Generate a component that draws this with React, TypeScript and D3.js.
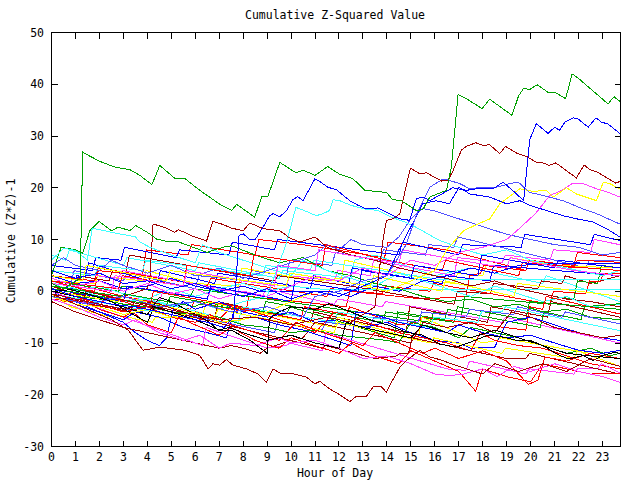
import React from 'react';
import * as d3 from 'd3';

// hour-of-day ticks and value ticks
const hourTicks = d3.range(0, 24);
const valueTicks = [-30, -20, -10, 0, 10, 20, 30, 40, 50];

// each series: [hour, cumulative (Z*Z)-1]
const g1 = [[0,1.5],[0.5,0.5],[1.2,2.5],[1.3,26.9],[1.52,26.3],[2.02,25.1],[2.64,24],[3.27,23.5],[3.69,22.4],[4.19,20.6],[4.52,24.3],[5.15,21.8],[5.56,21.8],[6.19,19.5],[7.03,16.8],[7.52,15.6],[7.73,16.8],[8.48,14.3],[8.78,18.3],[9.03,18.3],[9.53,24.9],[10.2,22.9],[10.5,23.4],[11,22.4],[11.53,24.1],[12.03,22.6],[12.57,21.8],[13.08,19.5],[13.98,19.1],[14.24,17.7],[14.6,17.5],[15.23,15.6],[15.5,15.8],[15.79,18.2],[16.49,19.5],[16.69,24],[16.97,38],[17.32,37.2],[17.97,35.3],[18.29,37.1],[19.22,34],[19.5,37.8],[19.72,39.3],[19.93,38.9],[20.27,39.9],[20.77,38.3],[21,38.5],[21.46,37.2],[21.73,42],[21.98,41.2],[23.23,36.2],[23.48,37.6],[23.72,36.7]];
const b1 = [[0,0.5],[1,-1],[2.5,-2.5],[3.5,-3],[5,-4.5],[6.5,-6],[7.2,-7],[7.6,-5],[7.83,10.8],[8.0,11.1],[8.25,10.1],[8.49,9.9],[8.83,12.4],[9.11,14.6],[9.25,15],[9.53,14.4],[9.81,15.6],[10.08,17.7],[10.27,18.3],[10.5,17.5],[10.99,21.7],[11.2,21.2],[11.54,20.1],[11.9,19.6],[12.45,17.5],[12.8,16.6],[13.15,15.9],[13.63,16.1],[13.98,15.3],[14.54,14],[14.95,13.7],[15.23,17.9],[15.51,18.2],[15.79,17.5],[16.75,20],[17.32,19.5],[17.74,19.8],[18.43,19.8],[18.85,21.1],[19.41,18.8],[19.71,17.5],[19.96,29.3],[20.24,32.4],[20.73,30.5],[21.0,31.7],[21.2,31.1],[21.43,32.7],[21.77,33.5],[21.98,33.3],[22.4,31.7],[22.73,33.5],[22.95,32.7],[23.23,32.3],[23.72,30.5]];
const dr1 = [[0,-0.5],[1.5,-2],[3,-3.5],[4.2,-2],[5.5,-4],[7,-5.5],[8.5,-5],[10,-6.5],[11.5,-5],[12.5,-6],[13.5,-3],[13.84,10.1],[13.98,13.7],[14.26,14],[14.54,15],[14.98,23.8],[15.37,22.7],[15.65,22.9],[16.0,22],[16.28,21.3],[16.55,21.4],[16.76,23.3],[17.11,27.3],[17.32,28],[17.71,28.7],[18.01,28.2],[18.29,28.3],[18.71,26.6],[18.95,28],[19.41,26.7],[19.89,25.9],[20.24,24.9],[20.52,24.8],[20.77,24.3],[21.05,24.8],[21.91,21.9],[22.23,24.4],[22.47,23.5],[22.75,23.1],[23.55,20.9],[23.72,21.2]];
const dr2 = [[0,-0.5],[0.5,-1.5],[1.5,-3.5],[2.5,-5.5],[3.2,-7.5],[3.82,-11.4],[4.52,-10.8],[5.56,-11.4],[6.19,-12.4],[6.54,-15],[6.74,-14],[7.02,-14.3],[7.3,-13.2],[7.58,-14.3],[8.14,-15],[8.62,-16],[8.97,-17.6],[9.25,-15],[9.53,-15.8],[9.95,-15.8],[10.64,-16.6],[10.99,-17.9],[11.2,-17.4],[11.62,-18.9],[12.03,-20],[12.45,-21.3],[12.73,-20.3],[13.15,-20.3],[13.42,-18.5],[13.77,-18.5],[13.98,-19.5],[14.19,-17.6],[14.54,-14.7],[14.82,-13.4],[15.37,-11.4],[15.79,-12.7],[16.2,-13.2],[17,-14.5],[18,-16],[18.5,-14],[19.5,-15.5],[20.5,-14],[21.5,-15.5],[22.5,-13],[23.72,-14.5]];
const g2 = [[0,3],[0.4,8.5],[1.0,8],[1.3,7.3],[1.6,11.7],[1.98,13.5],[2.5,11.7],[2.79,12.4],[3.27,11.7],[3.52,12.7],[4.1,11.1],[4.38,10.1],[4.73,9.7],[5.2,9.7],[6.5,7.5],[6.74,7.9],[7.16,8.5],[7.51,8.8],[8.5,7],[9.5,5.5],[10.5,6.5],[11.5,4],[12.5,3],[13.5,1.5],[14.5,0.5],[15.5,-1],[16.5,-2],[17.5,-1.5],[18.5,-3],[19.5,-2.5],[20.5,-4],[21.5,-3.5],[22.5,-5],[23.72,-5.5]];
const c1 = [[0,6],[0.5,8.3],[1,7.9],[1.5,6],[1.7,12.2],[2.2,11.7],[2.5,11.4],[3.5,10.5],[3.7,9.5],[4.1,8.5],[5,7],[6,5.5],[6.3,9],[7,7.5],[8,6],[9,4.5],[10,3],[10.5,6],[11.5,4],[12.5,2.5],[13.5,1],[14.5,3.5],[15.5,2],[16.5,0.5],[17.5,-1],[18.5,1],[19.5,-0.5],[20.5,-2],[21.5,-1],[22.5,-3],[23.72,-2.5]];
const dr3 = [[0,1],[1,-0.5],[2,-1.5],[3,-1],[4,0.5],[4.1,2],[4.24,13],[4.8,12.2],[5.15,11.4],[5.29,11.9],[5.64,11.2],[5.91,10.6],[6.12,10.3],[6.47,9.7],[6.74,13.5],[7.16,12.9],[7.51,12.2],[8,11.7],[8.28,13.2],[8.83,12.1],[9.53,11.7],[9.95,10.3],[10.36,9.5],[11,10.5],[11.5,8.5],[12.5,7],[13.5,6],[14.5,4.5],[15.5,3.5],[16.5,2.5],[17.5,1],[18.5,2],[19.5,0.5],[20.5,-0.5],[21.5,-1.5],[22.5,-2],[23.72,-3]];
const c2 = [[0,2],[1,0.5],[2,-1],[3,-2],[4,-1.5],[5,-3],[6,-2],[7,-3.5],[8,-2],[9,-1],[9.8,9.2],[10.2,16.2],[10.6,15.5],[11.05,14.6],[11.33,15],[11.61,15.6],[11.75,17.7],[12.03,17.5],[12.5,16.6],[13.08,15.9],[13.63,15.6],[14.19,14.3],[14.75,13.4],[15.2,12.4],[16.2,9.8],[17,8.5],[18,7],[19,8],[20,6],[21,5],[22,4],[23,3],[23.72,4]];
const p1 = [[0,-1],[1.5,-2.5],[3,-1],[4.5,-3],[6,-2],[7.5,-4],[9,-3],[10.5,-5],[11,-1],[12,0],[13,2],[14,3],[14.8,9],[15.3,15.6],[15.51,17.5],[15.79,20.1],[16.34,21.7],[16.62,21.4],[17.04,20.8],[17.46,19.8],[18.0,20.1],[18.57,20.1],[19.13,20.8],[19.48,21.1],[19.96,19.1],[20.52,18.5],[21.35,17.5],[22.19,15.9],[22.75,15],[23.72,13]];
const b2 = [[0,4],[1,2.5],[2,3.5],[3,1.5],[4,2],[5,0.5],[6,1.5],[7,0],[8,-1],[9,0.5],[10,-1.5],[11,0],[12,-1],[13,1],[14,3],[14.5,8],[15.5,16.9],[16.05,17.5],[16.61,16.9],[17.01,20.1],[17.46,18.8],[18.29,18.2],[18.99,16.9],[19.55,17.5],[19.96,16.6],[20.66,15.6],[21.35,14.6],[21.91,14],[22.61,13.4],[23.2,12],[23.72,10.5]];
const m1 = [[0,2.5],[1,1],[2,2],[3,0],[4,1.5],[5,-0.5],[6,0.5],[7,-1.5],[8,0],[9,-1],[10,1],[11,3],[12,2],[13,4.5],[14,3],[15,6],[16,5],[17,7.5],[18,8.5],[19,10],[19.5,12],[20.2,15],[20.8,18.5],[21.3,19.5],[21.77,20.9],[22.19,20.8],[22.75,19.8],[23.3,19],[23.72,18.2]];
const y1 = [[0,-1],[1,-2.5],[2,-3],[3,-4.5],[4,-3.5],[5,-5],[6,-4],[7,-6],[8,-5.5],[9,-4],[10,-2],[11,0],[12,-1],[13,1],[14,0],[15,2],[16,4],[16.5,8],[17.2,11.7],[17.8,13],[18.3,14],[18.71,16.9],[19.55,19.8],[20.1,19.3],[20.66,19.5],[20.94,18.2],[21.5,20],[21.91,18.8],[22.75,17.5],[23.03,21.1],[23.3,20.8],[23.72,19.8]];
const r1 = [[0,-1],[0.6,-2],[1.2,-1.5],[2,-3.5],[3,-5],[3.4,-4],[4,-6.5],[5,-8],[5.3,-5],[6,-6.5],[7,-8.5],[7.5,-7],[8.5,-9.5],[9.5,-11],[10,-9],[11,-10.5],[12,-12],[12.5,-10],[13.5,-12.5],[14.5,-14],[15,-11.5],[16,-13.5],[17,-15.5],[17.7,-19.3],[18,-15],[19,-16.5],[20,-17.5],[20.5,-14],[21.5,-15],[22.5,-16],[23.72,-15.8]];
const m2 = [[0,-1.5],[1,-3],[2,-5],[3,-6.5],[3.5,-5.5],[4.5,-8],[5.5,-9.5],[6.2,-8.5],[7,-11],[7.5,-10],[8.5,-10.5],[9.5,-9],[10,-10],[11,-9.5],[12,-11],[13,-13],[14,-12.5],[15,-14],[16,-16],[16.6,-16.3],[17.2,-16],[18,-15],[18.6,-16.5],[19.3,-14.5],[20,-15.5],[21,-14],[22,-15.5],[23,-16.5],[23.72,-17.6]];
const r2 = [[0,0.5],[1,-1],[2,-2.5],[3,-4],[4,-3],[5,-5],[6,-6],[6.6,-4.5],[7.5,-6.5],[8.5,-8],[9.5,-9.5],[10.2,-6],[11,-7.5],[12,-9],[13,-10.5],[13.5,-8],[14.5,-10],[15.5,-12],[16,-11],[17,-13],[18,-11.5],[19,-13.5],[19.9,-18],[20.3,-17.2],[20.6,-12.7],[21.5,-13.5],[22.5,-12],[23.72,-13]];
const b3 = [[0,0],[1,-2],[2,-4],[3,-6],[3.5,-8],[4,-9.5],[4.5,-10.5],[4.8,-9],[5.1,-3],[5.5,-2],[6,-3.5],[7,-2],[8,-4],[9,-5],[10,-4],[11,-6],[12,-5.5],[13,-7],[14,-6],[15,-8],[16,-9.5],[17,-10],[17.5,-11],[18.5,-10.8],[19,-6],[20,-5],[21,-6.5],[22,-8],[23,-9],[23.72,-9.5]];
const bk1 = [[0,0],[1,-1],[2,-2],[3,-3],[4,-4.5],[4.5,-1.2],[5,-2],[6.5,-5.7],[7,-7.6],[7.5,-7.5],[8.3,-9.5],[9,-12],[9.1,-5.3],[9.5,-4],[10,-3],[11,-3.5],[11.6,-2.4],[12.5,-4],[13.4,-5.7],[14.1,-6.6],[14.8,-7.9],[15.5,-8.5],[16.2,-10.2],[16.9,-10.8],[17.5,-9.8],[18.2,-8.5],[18.9,-8.9],[19.4,-9.5],[20,-9.5],[20.5,-10.5],[21.2,-12.4],[21.6,-13.1],[22.2,-12.4],[22.6,-13.4],[23,-12.4],[23.5,-11.8],[23.72,-12]];
const bk2 = [[0,0],[0.8,0.3],[1.5,-0.5],[2.5,-2],[3.6,-5],[4,-6],[4.3,-3],[5,-4],[6,-5.5],[7,-7.5],[7.4,-7],[8,-8],[9,-9.5],[10,-8.5],[11,-10],[12,-11],[12.3,-6],[13,-7],[14,-8],[15,-9],[15.5,-6.5],[16.5,-8],[17.5,-9],[18.5,-7.5],[19.5,-9],[20.5,-10.5],[21.5,-12],[22.5,-12.5],[23.72,-13]];
const c3 = [[0,1.5],[1,0],[2,1],[3,-0.5],[4,-1.5],[5,0.5],[6,-1],[7,0.5],[8,1.5],[9,0],[10,1],[11,0.5],[11.6,0.3],[23.72,0.3]];
const c4 = [[0,4],[1.8,3],[1.95,5],[3.8,4],[3.95,6],[8.8,3],[8.95,5],[10.8,4],[10.95,6],[16.3,2.2],[23.72,2.2]];
const b4 = [[0,3],[1,1.5],[2,2],[3,0.5],[4,1],[5,2.5],[6,1],[7,0],[8,1],[8.7,0],[11.6,0],[12.5,-1],[13.5,1],[14.5,0],[15.5,2],[16.5,3],[17.5,4.5],[18.5,3.5],[19.5,5],[20.8,5.3],[23.72,5.3]];
const p2 = [[0,5],[0.5,6.5],[1,5],[2,4],[2.5,6],[3,5],[4,3.5],[5,5],[6,3],[7,4.5],[8,2.5],[9,4],[10,5.5],[11,7],[11.5,9],[12,8],[12.5,10],[13,9],[14,8.5],[14.5,10.5],[15,14],[15.5,16],[16,15.5],[17,14],[18,12.5],[19,11],[20,10],[21,9],[22,8.5],[23,7],[23.72,7.5]];
const r3 = [[0,2],[4.1,-3],[4.25,0],[7.8,-3],[10.4,-5.5],[10.55,-3],[12.3,-4.5],[12.45,-3],[14.5,-6.5],[15.3,-6],[15.45,-5],[19.8,-7.5],[19.95,-3],[20.5,-3.5],[20.65,-1],[23.72,-4.4]];
const g3 = [[0,1],[2.9,-1],[3.05,-0.5],[6,-3],[6.15,-2.5],[9.8,-4.5],[9.95,-3],[14.3,-9],[14.45,-4],[16.4,-5.5],[16.55,-3.5],[20.4,-7],[20.55,-4],[22.1,-5.5],[22.25,-3],[23.72,-2.4]];
const y2 = [[0,-0.5],[0.8,-3],[2.5,-5],[2.65,-4.5],[4.2,-6],[4.35,-5],[6.3,-5],[6.45,-2],[11.8,-7],[11.95,-5],[15.3,-9.5],[15.45,-5],[18,-10],[18.6,-9.5],[18.75,-9],[23.72,-13]];
const m3 = [[0,1],[2.8,-1],[4.5,-2],[4.65,0],[6.5,-1.5],[6.65,0.5],[7.8,0],[7.95,2],[9.8,1],[9.95,3],[11.8,2],[11.95,4],[13.3,3],[13.45,6],[16.8,3],[16.95,6.5],[18.8,5.5],[18.95,7],[20.8,6],[20.95,8],[22.5,7.5],[22.65,10],[23.72,9]];
const dr4 = [[0,1],[0.9,0.5],[1.05,3],[2.4,2],[2.55,4],[3.1,3.5],[3.25,7],[7.5,3.5],[9.3,2],[9.45,3],[12.5,1],[16.8,-2.5],[16.95,0],[18.3,-0.5],[18.45,1.5],[20.3,0.5],[20.45,2],[21.3,1.5],[21.45,3],[22.5,1.5],[23.72,3]];
const b5 = [[0,1],[0.9,0.5],[1.05,3],[1.4,2.8],[1.55,5.5],[4.4,1.5],[4.55,4],[6.8,1.5],[6.95,3.5],[10.8,0.5],[10.95,3],[12.4,1.5],[12.55,4.5],[16.3,1.5],[16.45,3],[18.3,2],[18.45,5],[23.72,3]];
const r4 = [[0,-1.5],[1,-2],[2,-3],[2.3,-1],[3,-2],[4,-3.5],[5,-5],[6,-4],[7,-5.5],[7.5,-3],[8.5,-4],[9.5,-5.5],[10.5,-7],[11,-8],[11.8,-4],[12.5,-5],[13.5,-6.5],[14.5,-8],[15.5,-9],[16.5,-10],[17.5,-11.5],[17.9,-8],[18.5,-9.5],[19.5,-10.5],[20.5,-11],[21.5,-12.5],[22.5,-14],[23.72,-15]];
const g4 = [[0,0],[1,-1],[2,-1.5],[3,-2.5],[4,-3],[5,-4],[6,-4.5],[7,-5],[8,-6.5],[9,-7],[10,-8],[11,-7.5],[12,-8.5],[13,-9],[14,-9.5],[14.5,-10],[15,-6],[16,-7],[17,-9],[17.5,-7],[18.5,-8],[19.5,-9],[20.5,-10.5],[21.5,-12],[22.5,-11],[23.3,-12.5],[23.72,-12]];
const c5 = [[0,7],[0.6,6],[0.75,8],[3,5],[3.15,6.5],[6,4],[6.15,5.5],[9.5,2.5],[9.65,4],[12.5,2.5],[12.65,6],[13.5,7],[16,3],[17.5,4.5],[19,3],[20.5,1.5],[20.65,3],[23.72,-2]];
const y3 = [[0,2],[1.8,1.5],[1.95,3],[3.8,2],[3.95,4],[6,1.5],[7.8,1],[7.95,4.5],[11,2],[12.1,2.5],[12.25,6],[16,2],[16.8,1.5],[16.95,3.5],[18,3],[18.15,5],[19,4.5],[19.15,6.5],[21,5],[23.72,4.5]];
const r5 = [[0,0],[0.8,-0.5],[0.95,1.5],[3,-1],[5.8,-3.5],[5.95,-2],[8.1,-4],[8.25,-1],[12.3,-3],[12.45,0],[15.5,-1.5],[17.3,-1],[17.45,3],[17.9,3.5],[18.05,5],[19.8,4],[19.95,6],[21.8,4.5],[21.95,6],[23.72,5.6]];
const dr5 = [[0,-2],[1,-4],[2,-5.5],[3,-7],[4,-8],[5,-9],[6,-10],[7,-11],[7.5,-10.5],[8,-11],[8.7,-12],[9,-11],[10,-9.5],[10.5,-9],[11,-6],[12,-7],[13,-8],[14,-9],[15,-10],[15.5,-6],[16.5,-7],[17.5,-6],[18.5,-8],[19.2,-4],[20,-5],[21,-7],[22,-8],[23,-9],[23.72,-8.5]];
const p3 = [[0,2],[0.8,1.5],[0.95,4],[3,2],[3.15,3.5],[6,0.5],[6.15,3],[8.2,2],[8.35,4],[9.8,3],[9.95,6],[11.7,5],[11.85,7.5],[13.7,6],[13.85,8],[15.6,7],[15.75,9],[16.8,8.5],[16.95,10.5],[21,6],[22.3,4.5],[22.45,6],[23.72,6]];
const b6 = [[0,-1],[1,-2.5],[2,-4],[3,-5.5],[3.5,-4],[4.5,-5],[5.5,-7],[6.5,-8],[7.3,-9],[7.6,-4],[8.5,-5],[9.5,-6.5],[10.5,-7.5],[11.5,-9],[12.5,-10.5],[12.7,-4],[13.5,-4.5],[14.5,-6],[15.5,-7],[16.5,-8],[17,-6.5],[18,-8],[19,-9],[20,-8.5],[21,-10],[22,-11.4],[23,-12],[23.72,-11.4]];
const m4 = [[0,0],[6.3,-10.5],[6.45,-7],[9,-11],[9.8,-10.5],[9.95,-10],[11.3,-11.5],[11.45,-8],[16.5,-15],[17.3,-15.3],[17.45,-13.5],[19.8,-16],[19.95,-15],[21.8,-16],[21.95,-15],[22.8,-15],[22.95,-14],[23.72,-15.8]];
const g5 = [[0,2],[2.8,0],[2.95,1],[5.8,-1],[5.95,0.5],[15.8,-6],[15.95,-4],[17.1,-5],[17.25,-1],[20.8,-2.5],[20.95,-1],[21.8,-1.5],[21.95,2],[22.8,1.5],[22.95,5],[23.72,4.5]];
const r6 = [[0,3],[1.8,2],[1.95,4.5],[6.5,1],[6.65,2.5],[11.5,-1],[11.65,0.5],[13.8,-0.5],[13.95,1],[15.8,0],[15.95,1.5],[20.8,-2.5],[20.95,0],[22.3,-0.5],[22.45,2],[22.9,1.8],[23.05,3.5],[23.72,3.5]];
const b7 = [[0,5],[1.7,4],[1.85,6.5],[2.9,6],[3.05,8.5],[5.2,6.5],[5.35,8],[7.4,7],[7.55,9.5],[9.3,8],[9.45,10],[12,8.5],[14.5,7],[14.65,9.5],[17,7],[17.15,9],[19.6,8.5],[19.75,11],[22.5,9],[22.65,11],[23.72,9.8]];
const dr6 = [[0,-1],[1.3,-2],[1.45,0],[11.3,-11],[11.45,-10.5],[13.5,-13],[14.4,-12.5],[14.55,-12],[14.9,-12],[15.05,-9],[19,-13],[19.8,-13],[19.95,-12],[23.72,-16]];
const y4 = [[0,0],[2.8,-2],[2.95,-1],[6.8,-5],[6.95,-3.5],[11.8,-8],[11.95,-6],[15.8,-10],[15.95,-9],[18.8,-12],[18.95,-11],[21.8,-13],[21.95,-11.5],[23.72,-14.5]];
const c6 = [[0,-0.5],[4.3,-4],[4.45,-2],[7.8,-6],[7.95,-3],[11.8,-6],[11.95,-4],[15.8,-7],[15.95,-5],[17.8,-6],[17.95,-4],[18.8,-4],[18.95,-3],[23.72,-7.6]];
const m5 = [[0,4],[2.8,2.5],[2.95,4],[8.8,-1],[8.95,0.5],[11.8,-2.5],[11.95,-1.5],[13.8,-3],[13.95,-2],[18.8,-6],[18.95,-5],[23.72,-10]];
const r7 = [[0,1],[1.8,0],[1.95,4],[3.8,3],[3.95,8],[5.7,7],[5.85,9],[8.5,7],[8.65,10],[10.5,9],[13.9,6.5],[14.05,9.5],[16.5,8],[19.8,4],[19.95,6],[21.8,5],[21.95,7.5],[23.72,6.5]];
const p4 = [[0,-1],[3.8,-4],[3.95,-3],[9.3,-8],[9.45,-6],[11.3,-7.5],[11.45,-6],[13.3,-7],[13.45,-5],[15.3,-6],[15.45,-4],[17.3,-5],[17.45,-3.5],[19.3,-4.5],[19.45,-3],[21.3,-5],[21.45,-4],[23.72,-6.3]];
const r8 = [[0,2],[2.8,0.5],[2.95,3],[5.5,1],[5.65,5],[8.3,3],[8.45,7],[11.3,5],[11.45,9],[14,6],[16.3,4],[16.45,6],[19.5,3],[19.65,5.5],[23.72,4]];
const b8 = [[0,0.5],[3,-2],[3.15,1],[6.5,-1.5],[6.65,1],[10,-2],[10.15,2],[12.8,0],[12.95,4],[15,2.5],[15.15,5],[17.8,3],[17.95,7],[21,4.5],[21.15,6],[23.72,4.5]];
const m6 = [[0,1.5],[2.5,0],[2.65,3],[5.5,1],[5.65,4],[9.3,1],[9.45,5],[11,4],[11.15,8],[13,6.5],[14.5,5.5],[14.65,8],[17,6],[19,4.5],[19.15,6.5],[21.8,4],[23.72,3]];
const dr7 = [[0,-1],[3.3,-4],[3.45,-2],[6.8,-5.5],[6.95,-2],[10.8,-6],[10.95,-4],[14.8,-8],[14.95,-3],[18.2,-6],[18.35,-3],[20.7,-5],[20.85,-2],[23.72,-5]];
const g6 = [[0,0.5],[4.8,-3],[4.95,-1],[8.8,-4],[8.95,-2],[13.8,-6],[13.95,-4],[16.8,-6],[16.95,-3],[19.8,-5.5],[19.95,-2],[23.72,-3.5]];
const y5 = [[0,3],[1.3,2],[1.45,5],[4.8,2],[4.95,4],[9.8,1],[9.95,3.5],[13.3,1],[13.45,3],[16.3,0],[16.45,2],[19.3,-1],[19.45,1.5],[23.72,-1]];

const series = [r7, b7, c5, p3, m3, y3, r5, dr4, b5, g5, r6, m5, c4, b4, c3, dr3, g2, c1, p2, c2,
  r8, b8, m6, dr7, g6, y5,
  r3, g3, y2, c6, p4, b3, dr5, r4, g4, b6, y4, m4, dr6, r2, r1, m2, bk2, bk1,
  m1, y1, b2, p1, dr2, dr1, b1, g1];

const red = '#ff0000', green = '#00a000', blue = '#0000ff', magenta = '#ff40ff', cyan = '#40ffff';
const darkred = '#a00000', yellow = '#ffff00', black = '#000000', periwinkle = '#5050ff';
const seriesColors = [red, blue, cyan, periwinkle, magenta, yellow, red, darkred, blue, green, red, magenta, cyan, blue, cyan, darkred, green, cyan, periwinkle, cyan,
  red, blue, magenta, darkred, green, yellow,
  red, green, yellow, cyan, periwinkle, blue, darkred, red, green, blue, yellow, magenta, darkred, red, red, magenta, black, black,
  magenta, yellow, blue, periwinkle, darkred, darkred, blue, green];

const W = 640, H = 480;
const left = 51.5, right = 620.5, top = 32.5, bottom = 446.5;
const font = '"DejaVu Sans Mono", monospace';

export default function App() {
  const x = d3.scaleLinear().domain([0, 23.75]).range([left, right]);
  const y = d3.scaleLinear().domain([-30, 50]).range([bottom, top]);
  const line = d3.line<number[]>().x(d => x(d[0])).y(d => y(d[1]));
  const px = (v: number) => Math.round(v - 0.5) + 0.5;

  return (
    <svg width={W} height={H} style={{ position: 'absolute', left: 0, top: 0, background: '#fff' }}
      fontFamily={font} fontSize={11.5}>
      <rect x={0} y={0} width={W} height={H} fill="#fff" />
      <g>
        {series.map((s, i) => (
          <path key={i} d={line(s) || ''} fill="none" stroke={seriesColors[i]} strokeWidth={1}
            shapeRendering="crispEdges" />
        ))}
      </g>
      <g stroke="#000" strokeWidth={1} shapeRendering="crispEdges">
        {hourTicks.map(h => (
          <g key={h}>
            <line x1={px(x(h))} x2={px(x(h))} y1={bottom} y2={bottom - 6} />
            <line x1={px(x(h))} x2={px(x(h))} y1={top} y2={top + 6} />
          </g>
        ))}
        {valueTicks.map(v => (
          <g key={v}>
            <line x1={left} x2={left + 6} y1={px(y(v))} y2={px(y(v))} />
            <line x1={right} x2={right - 6} y1={px(y(v))} y2={px(y(v))} />
          </g>
        ))}
        <rect x={left} y={top} width={right - left} height={bottom - top} fill="none" />
      </g>
      <g fill="#000">
        {hourTicks.map(h => (
          <text key={h} x={x(h)} y={461} textAnchor="middle">{h}</text>
        ))}
        {valueTicks.map(v => (
          <text key={v} x={44} y={y(v) + 4} textAnchor="end">{v}</text>
        ))}
        <text x={335} y={19} textAnchor="middle">Cumulative Z-Squared Value</text>
        <text x={335} y={477} textAnchor="middle">Hour of Day</text>
        <text transform="translate(15,241) rotate(-90)" textAnchor="middle">Cumulative (Z*Z)-1</text>
      </g>
    </svg>
  );
}
